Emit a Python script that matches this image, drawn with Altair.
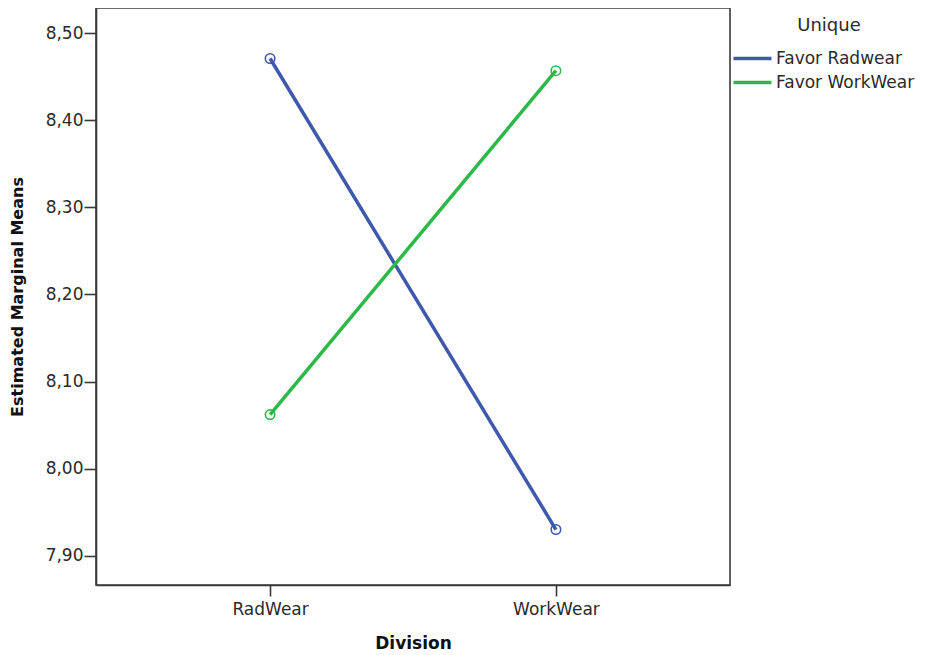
import altair as alt
import pandas as pd

groups = ["Favor Radwear", "Favor Radwear", "Favor WorkWear", "Favor WorkWear"]
divisions = ["RadWear", "WorkWear", "RadWear", "WorkWear"]
means = [8.471, 7.930, 8.062, 8.457]

series_names = ["Favor Radwear", "Favor WorkWear"]
series_colors = ["#3e58ac", "#2eb848"]
y_ticks = [7.9, 8.0, 8.1, 8.2, 8.3, 8.4, 8.5]

df = pd.DataFrame({"Unique": groups, "Division": divisions, "Mean": means})

x_enc = alt.X(
    "Division:N",
    sort=["RadWear", "WorkWear"],
    scale=alt.Scale(type="point", padding=0.609),
    axis=alt.Axis(
        title="Division",
        labelAngle=0,
        tickSize=11,
        labelPadding=5,
        titlePadding=18,
    ),
)
y_enc = alt.Y(
    "Mean:Q",
    scale=alt.Scale(domain=[7.8663, 8.529], nice=False, zero=False),
    axis=alt.Axis(
        title="Estimated Marginal Means",
        values=y_ticks,
        labelExpr="replace(format(datum.value, '.2f'), '.', ',')",
        tickSize=12,
        labelPadding=1,
        titlePadding=20,
    ),
)

lines = alt.Chart(df).mark_line(strokeWidth=3.5).encode(
    x=x_enc,
    y=y_enc,
    color=alt.Color(
        "Unique:N",
        scale=alt.Scale(domain=series_names, range=series_colors),
        legend=alt.Legend(
            title="Unique",
            orient="none",
            legendX=648,
            legendY=9,
            symbolType="M-3.8,0H3.8",
            symbolSize=100,
            symbolStrokeWidth=3.5,
            labelOffset=15,
            rowPadding=6,
            titlePadding=15,
            titleAnchor="middle",
            padding=0,
        ),
    ),
)

points = alt.Chart(df).mark_point(filled=False, size=90, strokeWidth=1.6, opacity=1).encode(
    x=x_enc,
    y=y_enc,
    stroke=alt.Stroke(
        "Unique:N",
        scale=alt.Scale(domain=series_names, range=series_colors),
        legend=None,
    ),
)

chart = (
    alt.layer(lines, points)
    .properties(
        width=634,
        height=577,
        autosize=alt.AutoSizeParams(type="none"),
        padding={"left": 88, "top": 0, "right": 191, "bottom": 67},
    )
    .configure(font="DejaVu Sans", background="white")
    .configure_view(stroke="#3a3a3a", strokeWidth=1.6)
    .configure_axis(
        grid=False,
        domainColor="#3a3a3a",
        domainWidth=1.6,
        tickColor="#3a3a3a",
        tickWidth=1.6,
        labelFont="DejaVu Sans",
        labelFontSize=17,
        labelColor="#2a2a2a",
        titleFont="DejaVu Sans",
        titleFontSize=16,
        titleFontWeight="bold",
        titleColor="#111111",
    )
    .configure_axisX(titleFontSize=17)
    .configure_legend(
        titleFont="DejaVu Sans",
        titleFontSize=18,
        titleFontWeight="normal",
        titleColor="#2a2a2a",
        labelFont="DejaVu Sans",
        labelFontSize=17,
        labelColor="#2a2a2a",
    )
)

chart.save("out.html", embed_options={"renderer": "svg", "actions": False})
